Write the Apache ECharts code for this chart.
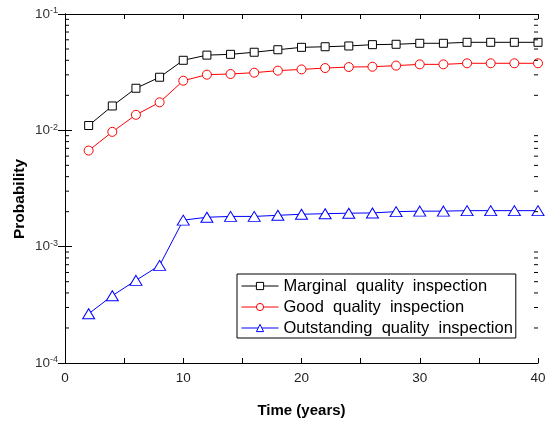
<!DOCTYPE html>
<html>
<head>
<meta charset="utf-8">
<script src="https://cdn.jsdelivr.net/npm/echarts@6/dist/echarts.min.js"></script>
<style>
  html, body { margin: 0; padding: 0; background: #fff; }
  #main { width: 549px; height: 423px; }
</style>
</head>
<body>
<div id="main"></div>
<script>
// time axis (years)
var years = [2, 4, 6, 8, 10, 12, 14, 16, 18, 20, 22, 24, 26, 28, 30, 32, 34, 36, 38, 40];

// probability values
var marginal = [0.0110, 0.0162, 0.0230, 0.0286, 0.0400, 0.0443, 0.0450, 0.0469, 0.0493, 0.0517,
  0.0523, 0.0531, 0.0545, 0.0549, 0.0560, 0.0560, 0.0571, 0.0571, 0.0571, 0.0571];
var good = [0.0067, 0.0097, 0.0136, 0.0174, 0.0267, 0.0301, 0.0305, 0.0313, 0.0326, 0.0334,
  0.0343, 0.0350, 0.0352, 0.0360, 0.0369, 0.0369, 0.0377, 0.0377, 0.0377, 0.0377];
var outstanding = [0.000265, 0.000379, 0.000513, 0.00069, 0.00169, 0.00179, 0.00182, 0.00182, 0.00186, 0.0019,
  0.00192, 0.00194, 0.00195, 0.0020, 0.00202, 0.00202, 0.00204, 0.00204, 0.00204, 0.00204];

var seriesNames = ['Marginal  quality  inspection', 'Good  quality  inspection', 'Outstanding  quality  inspection'];

// log axis minor tick positions
var minorTicks = [0.0002, 0.0003, 0.0004, 0.0005, 0.0006, 0.0007, 0.0008, 0.0009,
  0.002, 0.003, 0.004, 0.005, 0.006, 0.007, 0.008, 0.009,
  0.02, 0.03, 0.04, 0.05, 0.06, 0.07, 0.08, 0.09];

var FONT = 'Liberation Sans';

function pair(arr) {
  var out = [];
  for (var i = 0; i < years.length; i++) {
    out.push([years[i], arr[i]]);
  }
  return out;
}

var chart = echarts.init(document.getElementById('main'), null, { renderer: 'canvas' });

var yLabel = {
  fontFamily: FONT,
  color: '#000',
  margin: 7,
  formatter: function (v) {
    var e = Math.round(Math.log10(v));
    return '{a|10}{b|' + e + '}';
  },
  rich: {
    a: { fontSize: 13.5, fontFamily: FONT, color: '#333', lineHeight: 15 },
    b: { fontSize: 9, fontFamily: FONT, color: '#333', verticalAlign: 'top', lineHeight: 9 }
  }
};

var option = {
  backgroundColor: '#fff',
  animation: false,
  grid: { left: 65, right: 11, top: 14, bottom: 60, containLabel: false },
  legend: {
    data: seriesNames,
    orient: 'vertical',
    left: 237,
    top: 274,
    itemWidth: 37,
    itemHeight: 9,
    itemGap: 3,
    padding: [3, 3, 1, 4],
    borderColor: '#000',
    borderWidth: 1,
    borderRadius: 0,
    backgroundColor: '#fff',
    itemStyle: { borderWidth: 1 },
    lineStyle: { width: 1 },
    textStyle: { fontFamily: FONT, fontSize: 16.5, lineHeight: 18, color: '#000' }
  },
  xAxis: [{
    type: 'value',
    min: 0,
    max: 40,
    interval: 5,
    name: 'Time (years)',
    nameLocation: 'middle',
    nameGap: 40,
    nameTextStyle: { fontFamily: FONT, fontSize: 15, fontWeight: 'bold', color: '#000' },
    axisLine: { lineStyle: { color: '#000', width: 1 } },
    axisTick: { inside: true, length: 5, lineStyle: { color: '#000' } },
    axisLabel: {
      fontFamily: FONT, fontSize: 13.5, color: '#222', margin: 8,
      formatter: function (v) { return v % 10 === 0 ? String(v) : ''; }
    },
    splitLine: { show: false }
  }, {
    type: 'value',
    position: 'top',
    min: 0,
    max: 40,
    interval: 5,
    axisLine: { lineStyle: { color: '#000', width: 1 } },
    axisTick: { inside: true, length: 5, lineStyle: { color: '#000' } },
    axisLabel: { show: false },
    splitLine: { show: false }
  }],
  yAxis: [{
    type: 'log',
    logBase: 10,
    min: 0.0001,
    max: 0.1,
    axisLine: { show: true, lineStyle: { color: '#000', width: 1 } },
    axisTick: { inside: true, length: 7, lineStyle: { color: '#000' } },
    axisLabel: yLabel,
    splitLine: { show: false }
  }, {
    type: 'log',
    logBase: 10,
    position: 'right',
    min: 0.0001,
    max: 0.1,
    axisLine: { show: true, lineStyle: { color: '#000', width: 1 } },
    axisTick: { inside: true, length: 7, lineStyle: { color: '#000' } },
    axisLabel: { show: false },
    splitLine: { show: false }
  }],
  graphic: [{
    type: 'text',
    x: 20,
    y: 199,
    rotation: Math.PI / 2,
    style: {
      text: 'Probability',
      font: 'bold 15.5px "Liberation Sans"',
      fill: '#000',
      align: 'center',
      verticalAlign: 'middle'
    }
  }],
  series: [{
    name: seriesNames[0],
    type: 'line',
    data: pair(marginal),
    symbol: 'rect',
    symbolSize: 8,
    itemStyle: { color: '#fff', borderColor: '#000', borderWidth: 1 },
    lineStyle: { color: '#000', width: 1 }
  }, {
    name: seriesNames[1],
    type: 'line',
    data: pair(good),
    symbol: 'circle',
    symbolSize: 9,
    itemStyle: { color: '#fff', borderColor: '#ff0000', borderWidth: 1 },
    lineStyle: { color: '#ff0000', width: 1 }
  }, {
    name: seriesNames[2],
    type: 'line',
    data: pair(outstanding),
    symbol: 'triangle',
    symbolSize: [12, 10],
    itemStyle: { color: '#fff', borderColor: '#0000ff', borderWidth: 1 },
    lineStyle: { color: '#0000ff', width: 1 }
  }, {
    type: 'custom',
    silent: true,
    z: 5,
    data: minorTicks.map(function (v) { return [0, v]; }),
    renderItem: function (params, api) {
      var v = api.value(1);
      var l = api.coord([0, v]);
      var r = api.coord([40, v]);
      return {
        type: 'group',
        children: [{
          type: 'line',
          shape: { x1: l[0], y1: l[1], x2: l[0] + 4, y2: l[1] },
          style: { stroke: '#000', lineWidth: 1 }
        }, {
          type: 'line',
          shape: { x1: r[0], y1: r[1], x2: r[0] - 4, y2: r[1] },
          style: { stroke: '#000', lineWidth: 1 }
        }]
      };
    }
  }]
};

chart.setOption(option);
</script>
</body>
</html>
